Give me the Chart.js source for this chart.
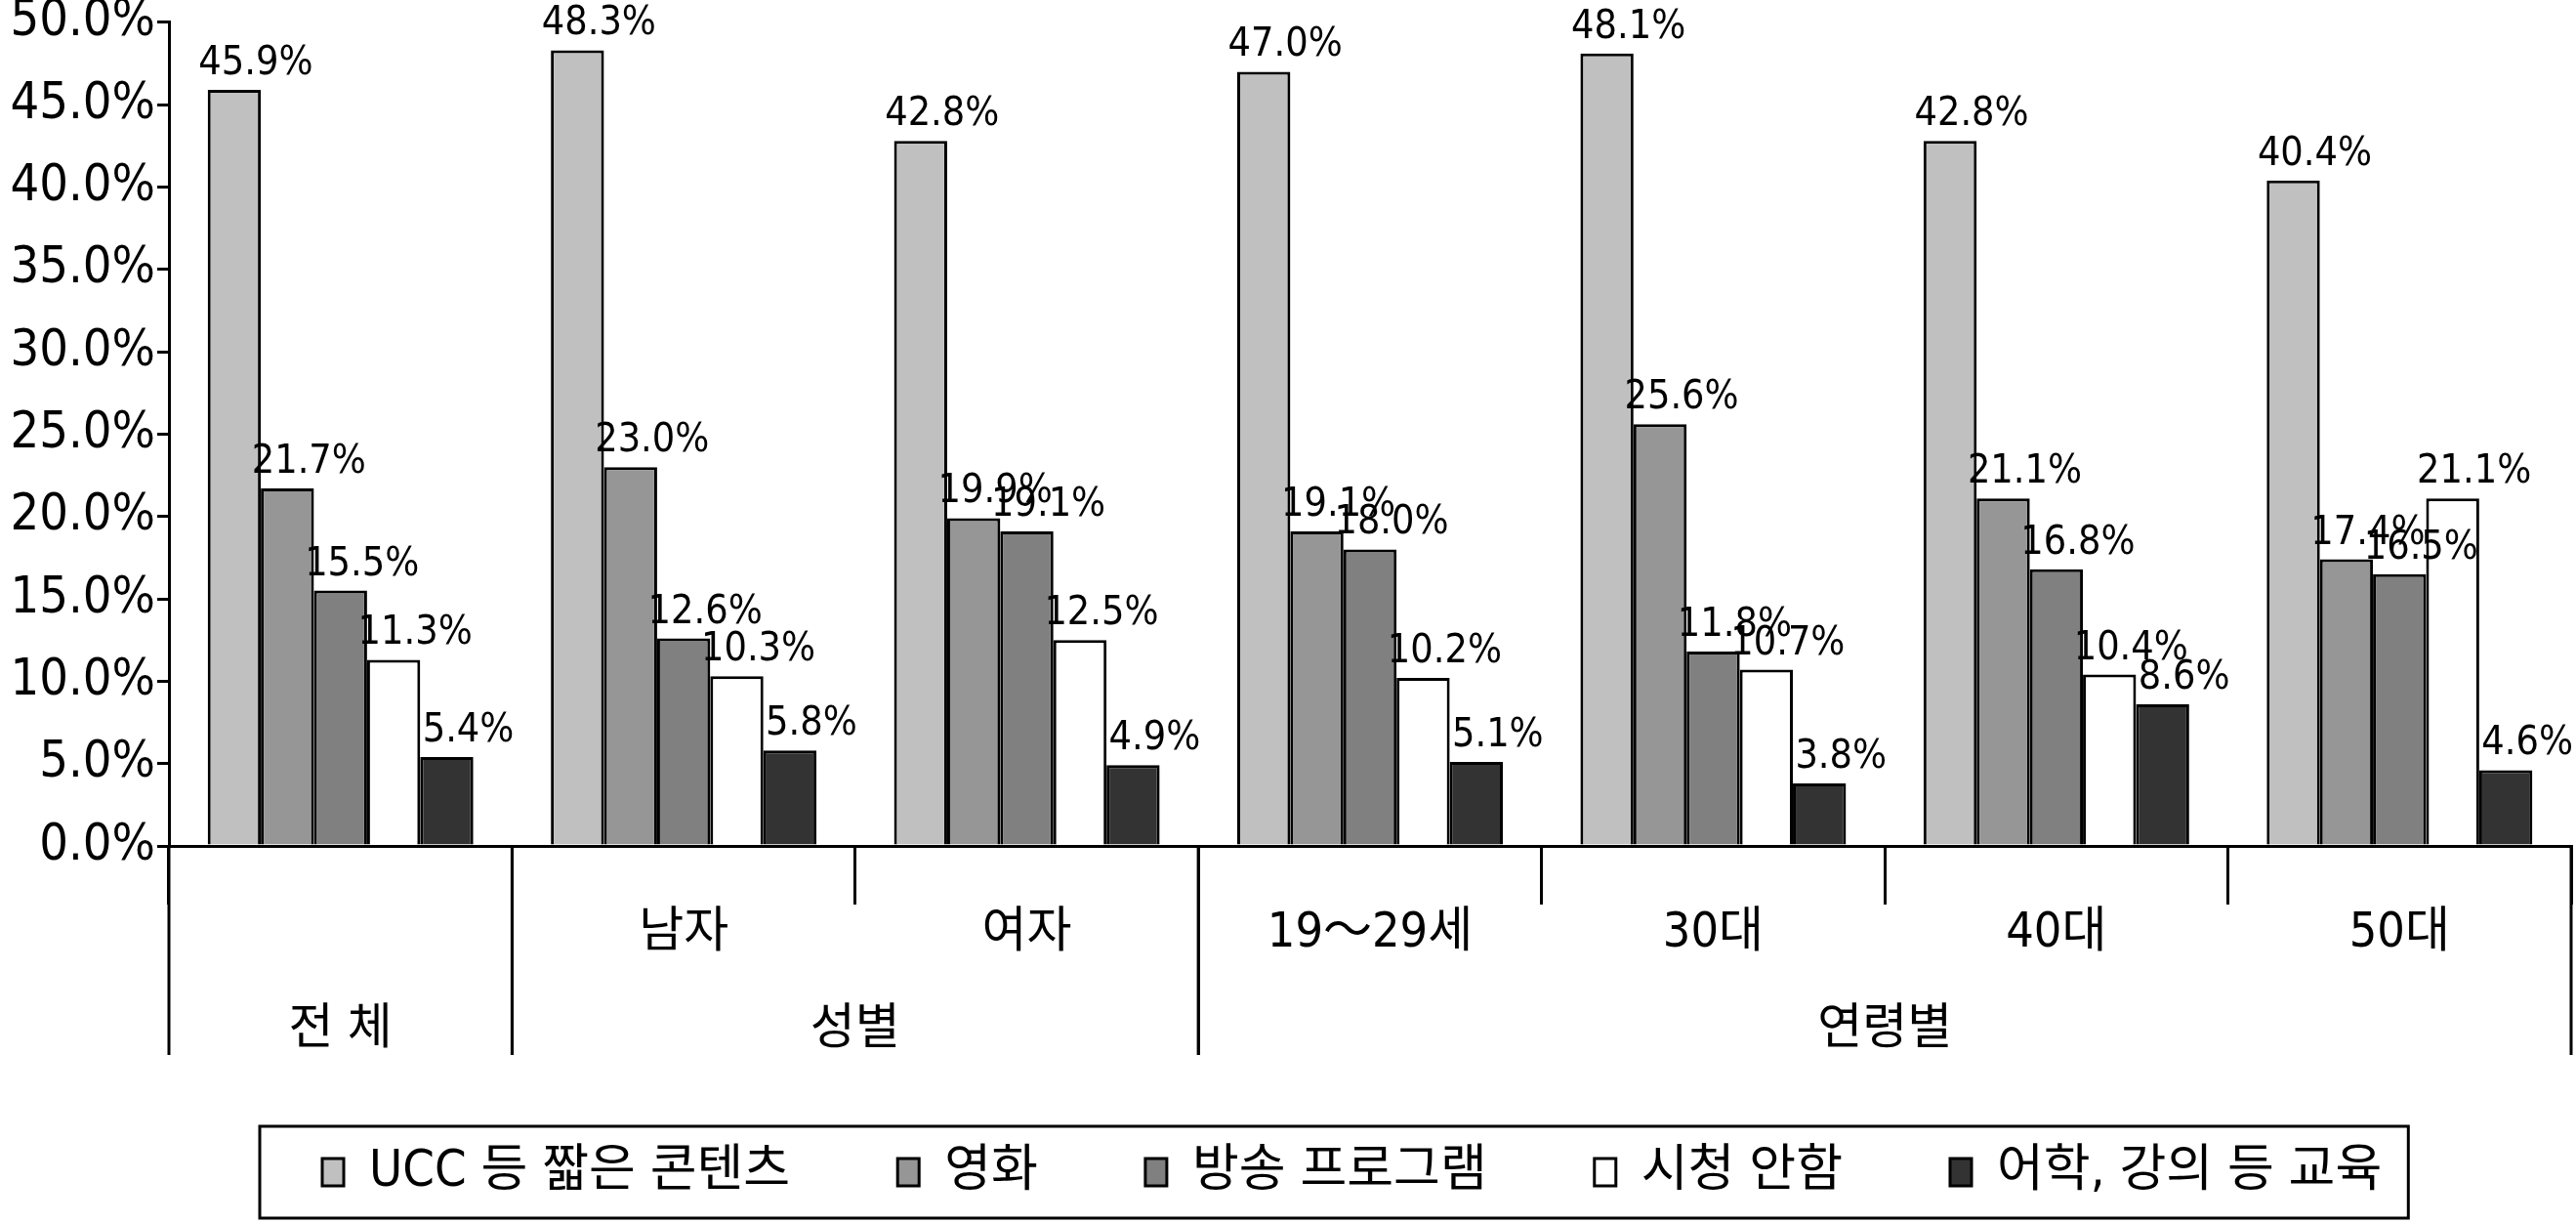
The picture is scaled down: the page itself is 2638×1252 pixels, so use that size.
<!DOCTYPE html>
<html lang="ko">
<head>
<meta charset="utf-8">
<title>콘텐츠 시청 유형</title>
<script src="https://cdn.jsdelivr.net/npm/chart.js@4.4.0/dist/chart.umd.min.js"></script>
<style>
  html, body { margin: 0; padding: 0; background: #fff; }
  #wrap { width: 2638px; height: 1252px; }
</style>
</head>
<body>
<div id="wrap"><canvas id="chart" width="2638" height="1252"></canvas></div>
<script>
// 카테고리 (1단 라벨) 와 그룹 (2단 라벨)
const xLabels = ['', '남자', '여자', '19～29세', '30대', '40대', '50대'];
const groupNames = ['전 체', '성별', '연령별'];
const groupSpans = [1, 2, 4];

// 시리즈 값 (%)
const seriesNames = ['UCC 등 짧은 콘텐츠', '영화', '방송 프로그램', '시청 안함', '어학, 강의 등 교육'];
const uccValues = [45.9, 48.3, 42.8, 47.0, 48.1, 42.8, 40.4];
const movieValues = [21.7, 23.0, 19.9, 19.1, 25.6, 21.1, 17.4];
const broadcastValues = [15.5, 12.6, 19.1, 18.0, 11.8, 16.8, 16.5];
const noneValues = [11.3, 10.3, 12.5, 10.2, 10.7, 10.4, 21.1];
const eduValues = [5.4, 5.8, 4.9, 5.1, 3.8, 8.6, 4.6];

// y축 눈금
const yMin = 0;
const yMax = 50;
const yStep = 5;

const seriesColors = ['#C0C0C0', '#969696', '#808080', '#FFFFFF', '#333333'];
const NUM_FONT = "'DejaVu Sans Condensed', 'DejaVu Sans', 'Noto Sans CJK KR', sans-serif";
const KR_FONT = "'DejaVu Sans Condensed', 'Noto Sans CJK KR', sans-serif";

// 막대 위 값 라벨
const valueLabelPlugin = {
    id: 'valueLabels',
    afterDatasetsDraw(chart) {
        const ctx = chart.ctx;
        ctx.save();
        ctx.fillStyle = '#000';
        ctx.font = `41px ${NUM_FONT}`;
        ctx.textAlign = 'center';
        ctx.textBaseline = 'alphabetic';
        chart.data.datasets.forEach((ds, i) => {
            const meta = chart.getDatasetMeta(i);
            meta.data.forEach((bar, j) => {
                ctx.fillText(ds.data[j].toFixed(1) + '%', bar.x + 22, bar.y - 16);
            });
        });
        ctx.restore();
    }
};

// 2단 그룹 라벨과 긴 구분선
const groupAxisPlugin = {
    id: 'groupAxis',
    afterDraw(chart) {
        const x = chart.scales.x;
        const ctx = chart.ctx;
        const w = x.width / xLabels.length;
        ctx.save();
        ctx.strokeStyle = '#000';
        ctx.lineWidth = 3;
        ctx.fillStyle = '#000';
        ctx.font = `50px ${KR_FONT}`;
        ctx.textAlign = 'center';
        ctx.textBaseline = 'middle';
        let start = 0;
        groupNames.forEach((name, i) => {
            const left = x.getPixelForValue(start) - w / 2;
            const right = x.getPixelForValue(start + groupSpans[i] - 1) + w / 2;
            [left, right].forEach(px => {
                ctx.beginPath();
                ctx.moveTo(px, x.top);
                ctx.lineTo(px, x.top + 214);
                ctx.stroke();
            });
            ctx.fillText(name, (left + right) / 2, x.top + 189);
            start += groupSpans[i];
        });
        ctx.restore();
    }
};

// 범례 위치 보정과 테두리
const legendBoxPlugin = {
    id: 'legendBox',
    afterLayout(chart) {
        const d = 220 - chart.legend.left;
        chart.legend.left += d;
        chart.legend.right += d;
    },
    afterDraw(chart) {
        const hb = chart.legend.legendHitBoxes;
        if (!hb || !hb.length) return;
        const last = hb[hb.length - 1];
        const left = hb[0].left - 64;
        const right = last.left + last.width + 27;
        const cy = hb[0].top + hb[0].height / 2;
        const ctx = chart.ctx;
        ctx.save();
        ctx.strokeStyle = '#000';
        ctx.lineWidth = 3;
        ctx.strokeRect(left, cy - 47, right - left, 94);
        ctx.restore();
    }
};

const valueSets = [uccValues, movieValues, broadcastValues, noneValues, eduValues];
const datasets = seriesNames.map((name, i) => ({
    label: name,
    data: valueSets[i],
    backgroundColor: seriesColors[i],
    borderColor: '#000',
    borderWidth: 3,
    barPercentage: 1,
    categoryPercentage: 0.774
}));

new Chart(document.getElementById('chart'), {
    type: 'bar',
    data: { labels: xLabels, datasets: datasets },
    options: {
        responsive: false,
        animation: false,
        devicePixelRatio: 1,
        layout: { padding: { top: 22, right: 5, bottom: 16, left: 0 } },
        plugins: {
            tooltip: { enabled: false },
            legend: {
                position: 'bottom',
                align: 'start',
                fullSize: false,
                labels: {
                    color: '#000',
                    font: { family: KR_FONT, size: 52 },
                    boxWidth: 22,
                    boxHeight: 28,
                    padding: 110
                }
            }
        },
        scales: {
            x: {
                grid: {
                    offset: true,
                    drawOnChartArea: false,
                    color: '#000',
                    lineWidth: 3,
                    tickLength: 60
                },
                border: { color: '#000', width: 3 },
                ticks: {
                    color: '#000',
                    font: { family: KR_FONT, size: 50 },
                    padding: 0,
                    maxRotation: 0,
                    autoSkip: false
                },
                afterFit(scale) { scale.height = 198; }
            },
            y: {
                min: yMin,
                max: yMax,
                grid: {
                    drawOnChartArea: false,
                    color: '#000',
                    lineWidth: 3,
                    tickLength: 12
                },
                border: { color: '#000', width: 3 },
                ticks: {
                    stepSize: yStep,
                    color: '#000',
                    padding: 2,
                    font: { family: NUM_FONT, size: 52, lineHeight: 0.8 },
                    callback: v => v.toFixed(1) + '%'
                },
                afterFit(scale) { scale.width = 173; }
            }
        }
    },
    plugins: [valueLabelPlugin, groupAxisPlugin, legendBoxPlugin]
});
</script>
</body>
</html>
